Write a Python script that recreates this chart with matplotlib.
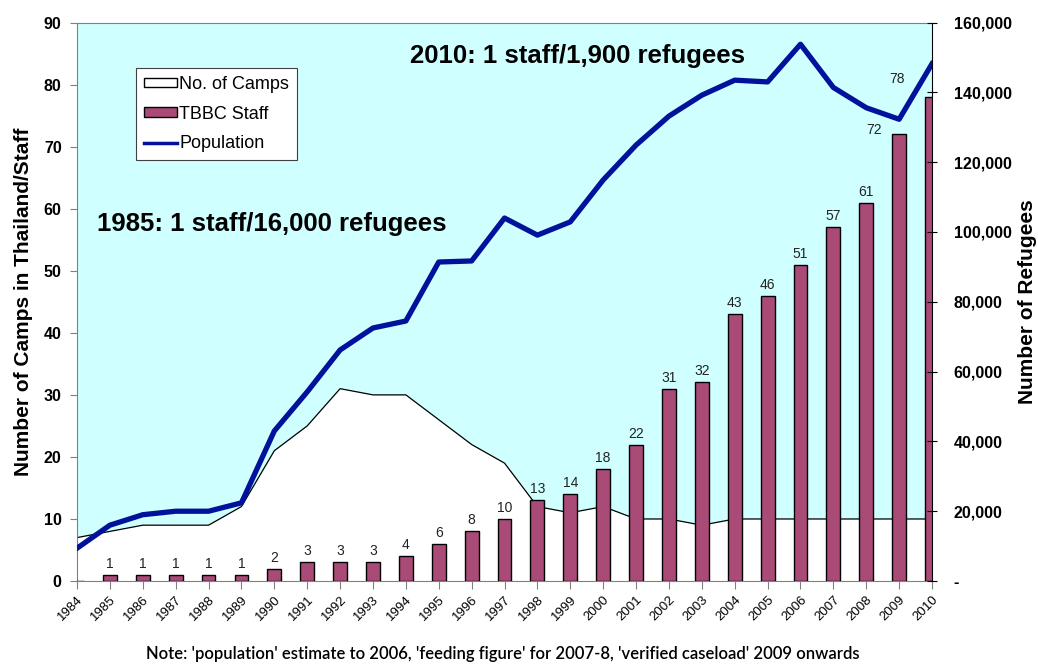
import numpy as np
import matplotlib.pyplot as plt
from matplotlib.patches import Patch
from matplotlib.lines import Line2D
from matplotlib.ticker import FuncFormatter, MultipleLocator

years = list(range(1984, 2011))
camps = [7, 8, 9, 9, 9, 12, 21, 25, 31, 30, 30, 26, 22, 19, 12, 11, 12, 10, 10, 9,
         10, 10, 10, 10, 10, 10, 10]
staff = [0, 1, 1, 1, 1, 1, 2, 3, 3, 3, 4, 6, 8, 10, 13, 14, 18, 22, 31, 32,
         43, 46, 51, 57, 61, 72, 78]
population = [9400, 16000, 19000, 20000, 20000, 22400, 43000, 54200, 66200, 72500,
              74500, 91400, 91700, 104000, 99100, 102900, 114900, 124900, 133200,
              139200, 143500, 143000, 153800, 141400, 135600, 132300, 148200]
legend_labels = ['No. of Camps', 'TBBC Staff', 'Population']
note = ("Note: 'population' estimate to 2006, 'feeding figure' for 2007-8, "
        "'verified caseload' 2009 onwards")

plt.rcParams['font.family'] = ['Liberation Sans', 'DejaVu Sans']

bar_col = '#A94A77'
line_col = '#00129B'
grey = '#808080'

fig = plt.figure(figsize=(10.38, 6.68), dpi=100)
ax = fig.add_axes([0.0742, 0.1302, 0.8237, 0.836])
ax.set_facecolor('#CFFFFF')
x = np.arange(len(years))

# camps as a white area with a thin black outline
ax.fill_between(x, 0, camps, color='white', lw=0, zorder=1)
ax.plot(x, camps, color='black', lw=0.9, zorder=2)

ax.bar(x, staff, width=0.42, color=bar_col, edgecolor='black', linewidth=1.0, zorder=3)

# value labels; the last two are nudged left of the line
offsets = {25: (-25, 0), 26: (-35, 14)}
for i, v in enumerate(staff):
    if v == 0:
        continue
    dx, dy = offsets.get(i, (0, 7))
    ax.annotate(str(v), (x[i], v), xytext=(dx, dy), textcoords='offset pixels',
                ha='center', va='baseline', fontsize=10, color='#222222', zorder=5)

ax.set_xlim(0, len(years) - 1)
ax.set_ylim(0, 90)
ax.yaxis.set_major_locator(MultipleLocator(10))
ax.set_xticks(x)
ax.set_xticklabels([str(y) for y in years], rotation=45, ha='right',
                   rotation_mode='anchor', fontsize=9.5)
ax.tick_params(axis='x', colors=grey, length=6, labelcolor='black', pad=3)
ax.tick_params(axis='y', colors=grey, length=5, labelcolor='black', pad=6)
for lab in ax.get_yticklabels():
    lab.set_fontsize(11.5)
    lab.set_fontweight('bold')
for side in ['left', 'top', 'bottom']:
    ax.spines[side].set_color(grey)
ax.spines['right'].set_visible(False)
ax.set_ylabel('Number of Camps in Thailand/Staff', fontsize=15, fontweight='bold',
              labelpad=8)

ax.text(10.13, 84.6, '2010: 1 staff/1,900 refugees', fontsize=18.5,
        fontweight='bold', va='center', ha='left', zorder=6)
ax.text(0.61, 57.5, '1985: 1 staff/16,000 refugees', fontsize=18.5,
        fontweight='bold', va='center', ha='left', zorder=6)

# refugee population on the secondary axis
ax2 = ax.twinx()
ax2.plot(x, population, color=line_col, lw=3.8, zorder=4)
ax2.set_ylim(0, 160000)
ax2.yaxis.set_major_locator(MultipleLocator(20000))
ax2.yaxis.set_major_formatter(FuncFormatter(lambda v, p: '-' if v == 0 else f'{v:,.0f}'))
ax2.tick_params(axis='y', direction='inout', length=7, colors='black', pad=12)
for lab in ax2.get_yticklabels():
    lab.set_fontsize(11.5)
    lab.set_fontweight('bold')
for side in ['left', 'top', 'bottom']:
    ax2.spines[side].set_visible(False)
ax2.spines['right'].set_color('black')
ax2.set_ylabel('Number of Refugees', fontsize=15, fontweight='bold', labelpad=5)

handles = [Patch(facecolor='white', edgecolor='black', lw=1),
           Patch(facecolor=bar_col, edgecolor='black', lw=1),
           Line2D([], [], color=line_col, lw=2.5)]
leg = ax2.legend(handles, legend_labels, loc='upper left', bbox_to_anchor=(0.069, 0.919),
                 borderaxespad=0, fancybox=False, framealpha=1, edgecolor='#404040',
                 fontsize=13, handlelength=1.8, handleheight=0.45, handletextpad=0.15,
                 labelspacing=0.7, borderpad=0.45)
leg.get_frame().set_linewidth(0.8)

fig.text(0.484, 0.009, note, ha='center', va='bottom', fontsize=12,
         family=['Lato', 'DejaVu Sans'], fontweight='semibold')

fig.savefig('out.png', dpi=100)
